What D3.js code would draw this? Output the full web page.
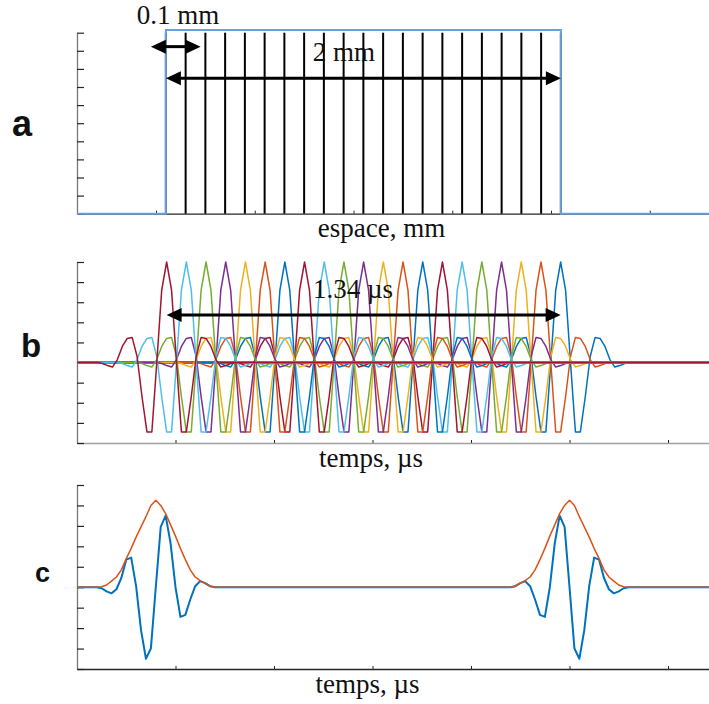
<!DOCTYPE html>
<html><head><meta charset="utf-8">
<script src="https://cdn.jsdelivr.net/npm/d3@7"></script>
<style>
html,body{margin:0;padding:0;background:#fff;}
svg{display:block;}
</style></head>
<body>
<div id="chart"></div>
<script>
// ---------- DATA ----------
// Panel a: element positions (mm) and rectangular aperture profile
const elementPositions = [0.05,0.15,0.25,0.35,0.45,0.55,0.65,0.75,0.85,0.95,1.05,1.15,1.25,1.35,1.45,1.55,1.65,1.75,1.85,1.95,2.05];
const apertureX = [-0.4, 0.05, 0.05, 2.05, 2.05, 2.8];
const apertureY = [0, 0, 1.015, 1.015, 0, 0];
const spaceTicks = [0, 0.5, 1, 1.5, 2, 2.5];
const levelTicksA = [0,0.1,0.2,0.3,0.4,0.5,0.6,0.7,0.8,0.9,1.0];

// Panel b: one pulse per element, peak times (left to right)
const pulseCenters = [0.91,1.11,1.31,1.51,1.71,1.91,2.11,2.31,2.51,2.71,2.91,3.11,3.31,3.51,3.71,3.91,4.11,4.31,4.51,4.71,4.91];
const pulseOffsets = [-0.7,-0.65,-0.6,-0.55,-0.5,-0.45,-0.4,-0.35,-0.3,-0.25,-0.2,-0.15,-0.1,-0.05,0,0.05,0.1,0.15,0.2,0.25,0.3,0.35,0.4,0.45,0.5,0.55,0.6,0.65,0.7];
const pulseShape   = [0,-0.01,-0.03,-0.045,0.03,0.16,0.24,0.25,0.06,-0.34,-0.69,-0.69,0.0,0.72,1.0,0.72,0.0,-0.69,-0.69,-0.34,0.06,0.25,0.24,0.16,0.03,-0.045,-0.03,-0.01,0];
const timeTicks = [1,2,3,4,5,6];
const ampTicks = [-0.8,-0.6,-0.4,-0.2,0,0.2,0.4,0.6,0.8,1.0];

// Panel c: received echo (first echo), second echo is its time mirror
const echoTimes    = [0.2,0.25,0.3,0.35,0.4,0.45,0.5,0.55,0.6,0.65,0.7,0.75,0.8,0.85,0.9,0.95,1.0,1.05,1.1,1.15,1.2,1.25,1.3,1.35,1.4];
const echoSignal   = [0,-0.01,-0.04,-0.06,-0.02,0.09,0.27,0.29,0.01,-0.42,-0.70,-0.60,0.0,0.59,0.70,0.43,0.0,-0.29,-0.27,-0.12,0.01,0.06,0.04,0.01,0];
const echoEnvelope = [0,0.005,0.022,0.06,0.10,0.17,0.28,0.38,0.49,0.59,0.69,0.80,0.85,0.80,0.72,0.61,0.50,0.38,0.27,0.17,0.10,0.065,0.04,0.012,0];
const echoMirror = 5.8;

const palette = ["#0072BD","#D95319","#EDB120","#7E2F8E","#77AC30","#4DBEEE","#A2142F"];

// ---------- DRAW ----------
const W = 709, H = 704;
const svg = d3.select("#chart").append("svg").attr("width", W).attr("height", H);
const serif = "'Liberation Serif', 'Times New Roman', serif";
const sans = "'Liberation Sans', Arial, sans-serif";

const xA = d3.scaleLinear().domain([-0.4, 2.8]).range([77, 709]);
const yA = d3.scaleLinear().domain([0, 1]).range([213.7, 32.7]);
const xT = d3.scaleLinear().domain([0, 6.416]).range([77, 709]);
const yB = d3.scaleLinear().domain([-0.8, 1]).range([443, 262]);
const yC = d3.scaleLinear().domain([-0.8, 1]).range([669, 485]);

function drawAxes(x, y, xTicks, yTicks, bottomColor) {
  const gx = svg.append("g").attr("transform", `translate(0,${y.range()[0]})`)
    .call(d3.axisBottom(x).tickValues(xTicks).tickSizeInner(-3).tickSizeOuter(0).tickFormat(""));
  gx.select(".domain").attr("stroke", bottomColor).attr("stroke-width", 1.3);
  gx.selectAll(".tick line").attr("stroke", "#262626");
  const gy = svg.append("g").attr("transform", `translate(${x.range()[0]},0)`)
    .call(d3.axisLeft(y).tickValues(yTicks).tickSizeInner(-7).tickSizeOuter(0).tickFormat(""));
  gy.select(".domain").attr("stroke", "#777").attr("stroke-width", 1.3);
  gy.selectAll(".tick line").attr("stroke", "#262626").attr("stroke-width", 1.2);
}

function arrow(x1, x2, y) {
  const hl = 15, hw = 7;
  const g = svg.append("g");
  g.append("line").attr("x1", x1 + hl - 2).attr("x2", x2 - hl + 2).attr("y1", y).attr("y2", y)
    .attr("stroke", "#000").attr("stroke-width", 3);
  g.append("path").attr("d", `M${x1},${y}L${x1+hl},${y-hw}L${x1+hl},${y+hw}Z`).attr("fill", "#000");
  g.append("path").attr("d", `M${x2},${y}L${x2-hl},${y-hw}L${x2-hl},${y+hw}Z`).attr("fill", "#000");
}

function label(txt, x, y, size, family, weight, anchor) {
  svg.append("text").attr("x", x).attr("y", y).attr("font-family", family)
    .attr("font-size", size).attr("font-weight", weight || "normal")
    .attr("text-anchor", anchor || "middle").attr("fill", "#111").text(txt);
}

// ----- Panel a -----
drawAxes(xA, yA, spaceTicks, levelTicksA, "#262626");
svg.append("g").selectAll("line").data(elementPositions).join("line")
  .attr("x1", d => xA(d)).attr("x2", d => xA(d))
  .attr("y1", yA(1)).attr("y2", yA(0))
  .attr("stroke", "#000").attr("stroke-width", 2);
const aperture = apertureX.map((x, i) => ({x, y: apertureY[i]}));
svg.append("path").datum(aperture)
  .attr("d", d3.line().x(d => xA(d.x)).y(d => yA(d.y)))
  .attr("fill", "none").attr("stroke", "#6a9fd8").attr("stroke-width", 2);
arrow(xA(elementPositions[0]) - 15, xA(elementPositions[1]) + 15, yA(0.923));
arrow(xA(elementPositions[0]), xA(elementPositions[elementPositions.length - 1]), yA(0.748));
label("0.1 mm", 178, 24, 27, serif);
label("2 mm", 344, 61, 27, serif);
label("espace, mm", 381.5, 236.5, 27, serif);
label("a", 12, 135.7, 36, sans, "bold", "start");

// ----- Panel b -----
drawAxes(xT, yB, timeTicks, ampTicks, "#a0a0a0");
const lineB = d3.line().x(d => xT(d.t)).y(d => yB(d.v));
const tEnd = xT.domain()[1];
const nP = pulseCenters.length;
for (let j = nP - 1; j >= 0; j--) {
  const c = pulseCenters[j];
  const pts = [{t: 0, v: 0}].concat(pulseOffsets.map((o, i) => ({t: c + o, v: pulseShape[i]})), [{t: tEnd, v: 0}]);
  svg.append("path").datum(pts).attr("d", lineB)
    .attr("fill", "none").attr("stroke", palette[(nP - 1 - j) % palette.length])
    .attr("stroke-width", 1.5).attr("stroke-linejoin", "round");
}
arrow(xT(pulseCenters[0]), xT(pulseCenters[nP - 1]), yB(0.473));
label("1.34 µs", 353, 297.7, 27, serif);
label("temps, µs", 371, 466.7, 27, serif);
label("b", 21, 357.3, 33, sans, "bold", "start");

// ----- Panel c -----
drawAxes(xT, yC, timeTicks, ampTicks, "#262626");
const lineC = d3.line().x(d => xT(d.t)).y(d => yC(d.v));
function echoSeries(vals) {
  const first = echoTimes.map((t, i) => ({t, v: vals[i]}));
  const second = echoTimes.map((t, i) => ({t: echoMirror - t, v: vals[i]})).reverse();
  return [{t: 0, v: 0}].concat(first, second, [{t: tEnd, v: 0}]);
}
svg.append("path").datum(echoSeries(echoSignal)).attr("d", lineC)
  .attr("fill", "none").attr("stroke", palette[0]).attr("stroke-width", 2).attr("stroke-linejoin", "round");
svg.append("path").datum(echoSeries(echoEnvelope)).attr("d", lineC)
  .attr("fill", "none").attr("stroke", palette[1]).attr("stroke-width", 1.5).attr("stroke-linejoin", "round");
label("temps, µs", 367.5, 693.3, 27, serif);
label("c", 35, 582.3, 27, sans, "bold", "start");
</script>
</body></html>
